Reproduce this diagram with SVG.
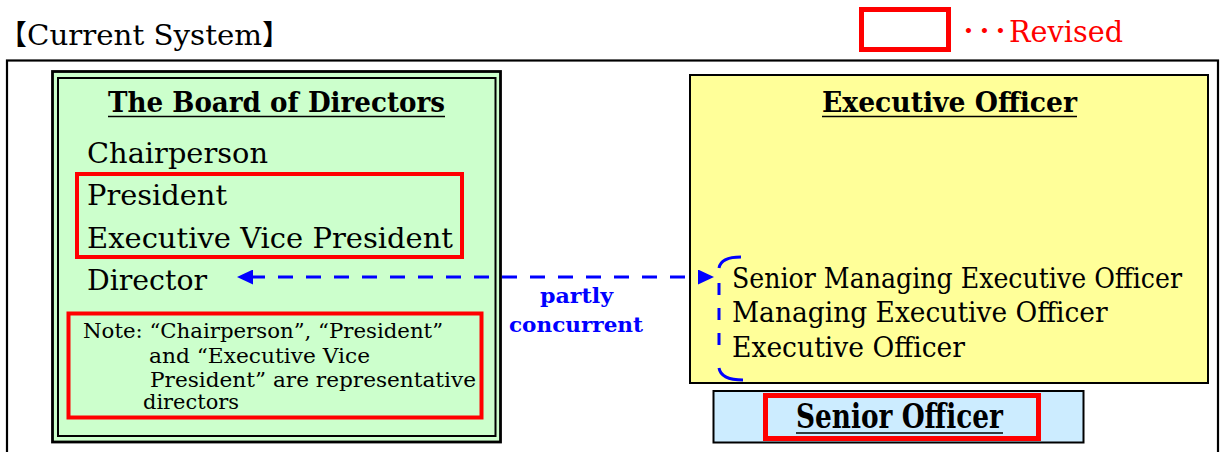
<svg xmlns="http://www.w3.org/2000/svg" width="1221" height="452" viewBox="0 0 1221 452">
<style>
text{font-family:"DejaVu Serif","Noto Sans CJK JP",serif;fill:#000}
.body{font-size:28px}
.title{font-size:28px;font-weight:bold}
.note{font-size:21px}
.red{stroke:#FF0000;fill:none}
.ul{stroke:#000;stroke-width:1.6}
.blue{fill:#0000FF;font-weight:bold;font-size:21px}
.bk{fill:none;stroke:#0000FF;stroke-width:3}
</style>
<defs>
<marker id="ah" viewBox="0 0 16 15" refX="0" refY="7.5" markerWidth="16" markerHeight="15" markerUnits="userSpaceOnUse" orient="auto-start-reverse">
<path d="M0,0 L16,7.5 L0,15 z" fill="#0000FF"/>
</marker>
</defs>
<rect width="1221" height="452" fill="#FFFFFF"/>

<g id="heading">
<text x="-1" y="45" class="body">【</text>
<text x="27" y="45" class="body" textLength="235" lengthAdjust="spacingAndGlyphs">Current System</text>
<text x="262" y="45" class="body">】</text>
</g>

<g id="legend">
<rect x="861.5" y="9.5" width="87" height="40" class="red" stroke-width="5"/>
<text x="961" y="42" style="font-size:30px;fill:#FF0000"><tspan letter-spacing="1">･･･</tspan><tspan x="1009" textLength="114" lengthAdjust="spacingAndGlyphs">Revised</tspan></text>
</g>

<g id="frame">
<rect x="7" y="60.5" width="1211" height="420" fill="none" stroke="#000" stroke-width="2.2"/>
</g>

<g id="board">
<rect x="52.5" y="71.5" width="448" height="370.5" fill="#CCFFCC" stroke="#000" stroke-width="2.8"/>
<rect x="58" y="78" width="437.5" height="358" fill="#CCFFCC" stroke="#000" stroke-width="2"/>
<text x="108" y="112" class="title" textLength="337" lengthAdjust="spacingAndGlyphs">The Board of Directors</text>
<line x1="108" y1="116.5" x2="445" y2="116.5" class="ul"/>
<text x="87" y="163" class="body" textLength="181" lengthAdjust="spacingAndGlyphs">Chairperson</text>
<rect x="77" y="174" width="385" height="83" class="red" stroke-width="4"/>
<text x="87" y="205" class="body" textLength="140" lengthAdjust="spacingAndGlyphs">President</text>
<text x="87" y="248" class="body" textLength="366" lengthAdjust="spacingAndGlyphs">Executive Vice President</text>
<text x="87" y="290" class="body" textLength="120" lengthAdjust="spacingAndGlyphs">Director</text>
<rect x="68.5" y="313.5" width="413" height="104" class="red" stroke-width="4"/>
<text x="83" y="338" class="note" textLength="360" lengthAdjust="spacingAndGlyphs">Note: “Chairperson”, “President”</text>
<text x="149" y="363" class="note" textLength="221" lengthAdjust="spacingAndGlyphs">and “Executive Vice</text>
<text x="150" y="387" class="note" textLength="326" lengthAdjust="spacingAndGlyphs">President” are representative</text>
<text x="143" y="409" class="note" textLength="96" lengthAdjust="spacingAndGlyphs">directors</text>
</g>

<g id="executive-officer">
<rect x="690" y="75" width="518" height="308" fill="#FFFF99" stroke="#000" stroke-width="2"/>
<text x="822" y="112" class="title" textLength="255" lengthAdjust="spacingAndGlyphs">Executive Officer</text>
<line x1="822" y1="116.5" x2="1077" y2="116.5" class="ul"/>
<text transform="translate(732,288) scale(0.8,1)" x="0" y="0" class="body" textLength="562.5" lengthAdjust="spacingAndGlyphs">Senior Managing Executive Officer</text>
<text transform="translate(732,322) scale(0.85,1)" x="0" y="0" class="body" textLength="442" lengthAdjust="spacingAndGlyphs">Managing Executive Officer</text>
<text x="732" y="357" class="body" textLength="233" lengthAdjust="spacingAndGlyphs">Executive Officer</text>
</g>

<g id="senior-officer">
<rect x="713.5" y="391" width="370" height="51.5" fill="#CCECFF" stroke="#000" stroke-width="2"/>
<rect x="765.5" y="395.5" width="273" height="43" class="red" stroke-width="5"/>
<text x="796" y="428" style="font-size:33px;font-weight:bold" textLength="207" lengthAdjust="spacingAndGlyphs">Senior Officer</text>
<line x1="796" y1="433" x2="1003" y2="433" class="ul"/>
</g>

<g id="connectors">
<path d="M698,277 L253,277" fill="none" stroke="#0000FF" stroke-width="3" stroke-dasharray="15 13" stroke-dashoffset="15" marker-start="url(#ah)" marker-end="url(#ah)"/>
<path d="M741,257 Q721,257 719,268" class="bk"/>
<path d="M719,282 L719,357" class="bk" stroke-dasharray="12 13" stroke-dashoffset="-1"/>
<path d="M719,368 Q721,380 743,380" class="bk"/>
</g>

<g id="label-partly-concurrent">
<text x="540" y="303" class="blue" textLength="73" lengthAdjust="spacingAndGlyphs">partly</text>
<text x="509" y="332" class="blue" textLength="134" lengthAdjust="spacingAndGlyphs">concurrent</text>
</g>
</svg>
